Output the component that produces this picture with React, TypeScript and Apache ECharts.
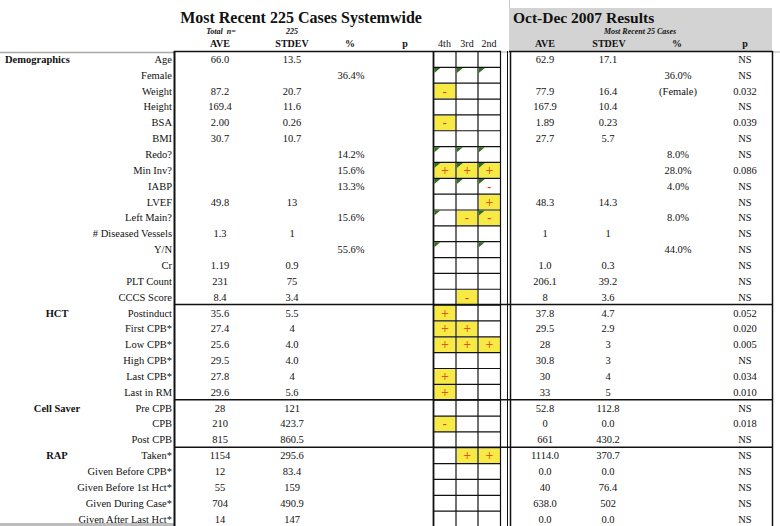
import React, { useEffect, useRef } from "react";
import * as echarts from "echarts";

const rowLabels = [
  "Age", "Female", "Weight", "Height", "BSA", "BMI", "Redo?", "Min Inv?", "IABP", "LVEF",
  "Left Main?", "# Diseased Vessels", "Y/N", "Cr", "PLT Count", "CCCS Score",
  "Postinduct", "First CPB*", "Low CPB*", "High CPB*", "Last CPB*", "Last in RM",
  "Pre CPB", "CPB", "Post CPB",
  "Taken*", "Given Before CPB*", "Given Before 1st Hct*", "Given During Case*", "Given After Last Hct*",
];
const sectionLabels = ["Demographics", "HCT", "Cell Saver", "RAP"];
const sectionRows = [0, 16, 22, 25];

const aveAll = ["66.0", "", "87.2", "169.4", "2.00", "30.7", "", "", "", "49.8", "", "1.3", "", "1.19", "231", "8.4",
  "35.6", "27.4", "25.6", "29.5", "27.8", "29.6", "28", "210", "815", "1154", "12", "55", "704", "14"];
const stdevAll = ["13.5", "", "20.7", "11.6", "0.26", "10.7", "", "", "", "13", "", "1", "", "0.9", "75", "3.4",
  "5.5", "4", "4.0", "4.0", "4", "5.6", "121", "423.7", "860.5", "295.6", "83.4", "159", "490.9", "147"];
const pctAll = ["", "36.4%", "", "", "", "", "14.2%", "15.6%", "13.3%", "", "15.6%", "", "55.6%", "", "", "",
  "", "", "", "", "", "", "", "", "", "", "", "", "", ""];

const aveRecent = ["62.9", "", "77.9", "167.9", "1.89", "27.7", "", "", "", "48.3", "", "1", "", "1.0", "206.1", "8",
  "37.8", "29.5", "28", "30.8", "30", "33", "52.8", "0", "661", "1114.0", "0.0", "40", "638.0", "0.0"];
const stdevRecent = ["17.1", "", "16.4", "10.4", "0.23", "5.7", "", "", "", "14.3", "", "1", "", "0.3", "39.2", "3.6",
  "4.7", "2.9", "3", "3", "4", "5", "112.8", "0.0", "430.2", "370.7", "0.0", "76.4", "502", "0.0"];
const pctRecent = ["", "36.0%", "(Female)", "", "", "", "8.0%", "28.0%", "4.0%", "", "8.0%", "", "44.0%", "", "", "",
  "", "", "", "", "", "", "", "", "", "", "", "", "", ""];
const pRecent = ["NS", "NS", "0.032", "NS", "0.039", "NS", "NS", "0.086", "NS", "NS", "NS", "NS", "NS", "NS", "NS", "NS",
  "0.052", "0.020", "0.005", "NS", "0.034", "0.010", "NS", "0.018", "NS", "NS", "NS", "NS", "NS", "NS"];

// quartile marks: t = green corner, + / - = yellow flag, m = red minus without fill
const quartileHeaders = ["4th", "3rd", "2nd"];
const marks4th = ["", "t", "-", "", "-", "", "t", "t+", "t", "", "t", "", "t", "", "", "",
  "+", "+", "+", "", "+", "+", "", "-", "", "", "", "", "", ""];
const marks3rd = ["", "t", "", "", "", "", "t", "t+", "t", "", "-", "", "", "", "", "-",
  "", "+", "+", "", "", "", "", "", "", "+", "", "", "", ""];
const marks2nd = ["", "t", "", "", "", "", "t", "t+", "tm", "+", "t-", "", "t", "", "", "",
  "", "", "+", "", "", "", "", "", "", "+", "", "", "", ""];

const SERIF = '"Liberation Serif", "Times New Roman", serif';

export default function App() {
  const ref = useRef<HTMLDivElement>(null);
  useEffect(() => {
    if (!ref.current) return;
    const chart = echarts.init(ref.current, undefined, { renderer: "svg" });
    const els: any[] = [];
    const top0 = 51.5;
    const rh = 15.85;
    const nRows = rowLabels.length;
    const bottom = 540;
    const cy = (i: number) => top0 + (i + 0.5) * rh;
    const txt = (text: string, x: number, y: number, o: any = {}) => {
      els.push({
        type: "text",
        x, y,
        silent: true,
        style: {
          text,
          fill: o.fill || "#111",
          fontSize: o.size || 10.5,
          fontFamily: SERIF,
          fontWeight: o.weight || "normal",
          fontStyle: o.style || "normal",
          textAlign: o.align || "center",
          textVerticalAlign: "middle",
        },
        z: 10,
      });
    };
    const line = (x1: number, y1: number, x2: number, y2: number, stroke = "#111", w = 1) => {
      els.push({ type: "line", silent: true, shape: { x1, y1, x2, y2 }, style: { stroke, lineWidth: w }, z: 5 });
    };

    // header grey box
    els.push({ type: "rect", silent: true, shape: { x: 509, y: 8, width: 263, height: 43 }, style: { fill: "#d3d3d3" }, z: 0 });
    line(509.5, 0, 509.5, 8, "#c8c8c8", 1);

    // titles
    txt("Most Recent 225 Cases Systemwide", 301, 17, { size: 16, weight: "bold", fill: "#111" });
    txt("Oct-Dec 2007 Results", 513, 17, { size: 15.5, weight: "bold", fill: "#111", align: "left" });
    txt("Total  n=", 221, 31, { size: 8, weight: "bold", style: "italic" });
    txt("225", 292, 31, { size: 8, weight: "bold", style: "italic" });
    txt("Most Recent 25 Cases", 640, 31, { size: 8, weight: "bold", style: "italic" });

    // column headers
    const hy = 43;
    txt("AVE", 220, hy, { size: 10, weight: "bold" });
    txt("STDEV", 292, hy, { size: 10, weight: "bold" });
    txt("%", 350, hy, { size: 10, weight: "bold" });
    txt("p", 405, hy, { size: 10, weight: "bold" });
    const qx = [444.5, 467, 489];
    quartileHeaders.forEach((h, k) => txt(h, qx[k], hy, { size: 10 }));
    txt("AVE", 545, hy, { size: 10, weight: "bold" });
    txt("STDEV", 609, hy, { size: 10, weight: "bold" });
    txt("%", 677, hy, { size: 10, weight: "bold" });
    txt("p", 745, hy, { size: 10, weight: "bold" });

    // header rule lines
    line(0, 52.5, 174, 52.5, "#a8a8a8", 1.5);
    line(174, 51.5, 501, 51.5, "#111", 1.5);
    line(501, 52, 509, 52, "#b0b0b0", 1);
    line(509, 51.5, 773, 51.5, "#111", 1.5);
    line(773, 52, 780, 52, "#b0b0b0", 1);
    line(0, 524.5, 174, 524.5, "#bdbdbd", 3);

    // left table border
    line(174.5, 51, 174.5, bottom, "#111", 2);
    // quartile grid
    const gx = [433.5, 456, 478, 500.5];
    gx.forEach((x, k) => line(x, 51, x, bottom, "#111", k === 0 ? 1.8 : 1.2));
    for (let i = 1; i <= nRows; i++) {
      const y = top0 + i * rh;
      line(433, y, 501, y, "#111", 1.2);
    }
    // right table border
    line(507.5, 51, 507.5, bottom, "#111", 1);
    line(510.5, 51, 510.5, bottom, "#111", 1.5);
    line(772.5, 51, 772.5, bottom, "#111", 1.5);

    // section separators
    sectionRows.slice(1).forEach((r) => {
      const y = top0 + r * rh - 0.5;
      line(174, y, 773, y, "#111", 1.5);
    });

    // section labels
    const secX = [5, 57, 57, 57];
    const secAlign = ["left", "center", "center", "center"];
    sectionLabels.forEach((s, k) => txt(s, secX[k], cy(sectionRows[k]), { size: 10.5, weight: "bold", align: secAlign[k] }));

    // row labels and values
    rowLabels.forEach((lab, i) => {
      const y = cy(i);
      txt(lab, 172, y, { align: "right", size: 10.5 });
      if (aveAll[i]) txt(aveAll[i], 220, y);
      if (stdevAll[i]) txt(stdevAll[i], 292, y);
      if (pctAll[i]) txt(pctAll[i], 351, y);
      if (aveRecent[i]) txt(aveRecent[i], 545, y);
      if (stdevRecent[i]) txt(stdevRecent[i], 608, y);
      if (pctRecent[i]) txt(pctRecent[i], 678, y);
      if (pRecent[i]) txt(pRecent[i], 745, y);
    });

    // quartile marks
    const cols = [marks4th, marks3rd, marks2nd];
    cols.forEach((arr, k) => {
      const x0 = gx[k] + 0.8;
      const x1 = gx[k + 1] - 0.6;
      arr.forEach((m, i) => {
        if (!m) return;
        const yTop = top0 + i * rh + 0.6;
        const yBot = top0 + (i + 1) * rh - 0.6;
        const flag = m.replace("t", "");
        if (flag === "+" || flag === "-") {
          els.push({ type: "rect", silent: true, shape: { x: x0, y: yTop, width: x1 - x0, height: yBot - yTop }, style: { fill: "#f7ea45" }, z: 3 });
        }
        if (m.includes("t")) {
          els.push({
            type: "polygon", silent: true,
            shape: { points: [[x0, yTop], [x0 + 6, yTop], [x0, yTop + 5]] },
            style: { fill: "#2f6f1f" }, z: 6,
          });
        }
        if (flag) {
          const sym = flag === "m" ? "-" : flag;
          txt(sym, (x0 + x1) / 2, (yTop + yBot) / 2 + (sym === "+" ? 0 : 0.5), {
            size: sym === "+" ? 14 : 12,
            fill: "#e03a16",
            weight: sym === "+" ? "normal" : "bold",
          });
        }
      });
    });

    chart.setOption({ animation: false, graphic: { elements: els } });
    return () => chart.dispose();
  }, []);
  return (
    <div
      ref={ref}
      style={{ position: "fixed", left: 0, top: 0, width: 780, height: 526, background: "#ffffff" }}
    />
  );
}
